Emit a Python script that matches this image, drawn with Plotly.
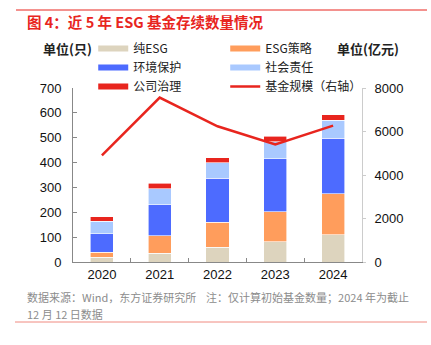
import plotly.graph_objects as go

years = ["2020", "2021", "2022", "2023", "2024"]
pure_esg = [20, 35, 59, 82, 110]
esg_strategy = [19, 71, 100, 120, 165]
environment = [74, 125, 177, 214, 222]
social = [51, 64, 63, 67, 73]
governance = [18, 21, 21, 23, 23]
fund_size = [4900, 7560, 6240, 5400, 6270]

bar_series = [
    ("纯ESG", pure_esg, "#DDD4BE"),
    ("ESG策略", esg_strategy, "#FF9D5C"),
    ("环境保护", environment, "#4D6BFF"),
    ("社会责任", social, "#A9C9FF"),
    ("公司治理", governance, "#E8251E"),
]
line_name = "基金规模（右轴）"
line_color = "#E8251E"

FONT = "Liberation Sans, Arial, Noto Sans CJK SC, sans-serif"
CJK = "Noto Sans CJK SC, Liberation Sans, sans-serif"

fig = go.Figure()
for name, vals, col in bar_series:
    fig.add_trace(go.Bar(x=years, y=vals, name=name, marker_color=col,
                         marker_line_width=0.6, marker_line_color="white",
                         width=0.4, showlegend=False, yaxis="y"))
fig.add_trace(go.Scatter(x=years, y=fund_size, name=line_name, mode="lines",
                         line=dict(color=line_color, width=2.5), yaxis="y2",
                         showlegend=False))

# legend entries (wide swatches like the reference)
legend_items = [(n, c, 6) for n, _, c in bar_series] + [(line_name, line_color, 2.5)]
for n, c, w in legend_items:
    fig.add_trace(go.Scatter(x=[None], y=[None], mode="lines", name=n,
                             line=dict(color=c, width=w), showlegend=True,
                             hoverinfo="skip"))


def px(x):
    return (x - 73) / 289


def py(y):
    return (262 - y) / 174


fig.update_layout(
    width=431, height=345,
    margin=dict(l=73, r=69, t=88, b=83),
    paper_bgcolor="white", plot_bgcolor="white",
    barmode="stack",
    font=dict(family=FONT, size=13, color="#222"),
    xaxis=dict(type="category", showline=True, linecolor="#888", linewidth=1,
               ticks="inside", ticklen=4, tickcolor="#888", tickson="boundaries",
               showgrid=False, tickfont=dict(size=13, color="#111")),
    yaxis=dict(range=[0, 700], dtick=100, showline=True, linecolor="#888",
               ticks="inside", ticklen=4, tickcolor="#888", showgrid=False,
               zeroline=False, ticklabelstandoff=8, tickfont=dict(size=13, color="#111")),
    yaxis2=dict(range=[0, 8000], dtick=2000, overlaying="y", side="right",
                showline=True, linecolor="#ccc", ticks="outside", ticklen=3,
                tickcolor="#ccc", showgrid=False, zeroline=False,
                ticklabelstandoff=6, tickfont=dict(size=13, color="#111")),
    legend=dict(orientation="h", x=0.07, y=py(34), xanchor="left", yanchor="top",
                entrywidth=87, entrywidthmode="pixels", itemwidth=30,
                traceorder="normal",
                font=dict(family=CJK, size=12, color="#222"),
                bgcolor="rgba(0,0,0,0)", tracegroupgap=0),
)

fig.add_shape(type="line", xref="paper", yref="paper", x0=px(16), x1=px(427),
              y0=py(10), y1=py(10), line=dict(color="#E8251E", width=1))
fig.add_shape(type="line", xref="paper", yref="paper", x0=px(15), x1=px(427),
              y0=py(322), y1=py(322), line=dict(color="#F08A80", width=1))

fig.add_annotation(xref="paper", yref="paper", x=px(25), y=py(22), xanchor="left",
                   yanchor="middle", showarrow=False,
                   text="<b>图 4：近 5 年 ESG 基金存续数量情况</b>",
                   font=dict(family=CJK, size=14.5, color="#E8251E"))
fig.add_annotation(xref="paper", yref="paper", x=px(67), y=py(48), xanchor="center",
                   yanchor="middle", showarrow=False, text="<b>单位(只)</b>",
                   font=dict(family=CJK, size=13, color="#222"))
fig.add_annotation(xref="paper", yref="paper", x=px(368), y=py(48), xanchor="center",
                   yanchor="middle", showarrow=False, text="<b>单位(亿元)</b>",
                   font=dict(family=CJK, size=13, color="#222"))
fig.add_annotation(xref="paper", yref="paper", x=px(25), y=py(297), xanchor="left",
                   yanchor="middle", showarrow=False, align="left",
                   text="数据来源：Wind，东方证券研究所\u00a0\u00a0\u00a0\u00a0注：仅计算初始基金数量；2024 年为截止",
                   font=dict(family=CJK, size=11, color="#8C8C8C"))
fig.add_annotation(xref="paper", yref="paper", x=px(25), y=py(314), xanchor="left",
                   yanchor="middle", showarrow=False, align="left",
                   text="12 月 12 日数据",
                   font=dict(family=CJK, size=11, color="#8C8C8C"))

fig.write_html("out.html")
